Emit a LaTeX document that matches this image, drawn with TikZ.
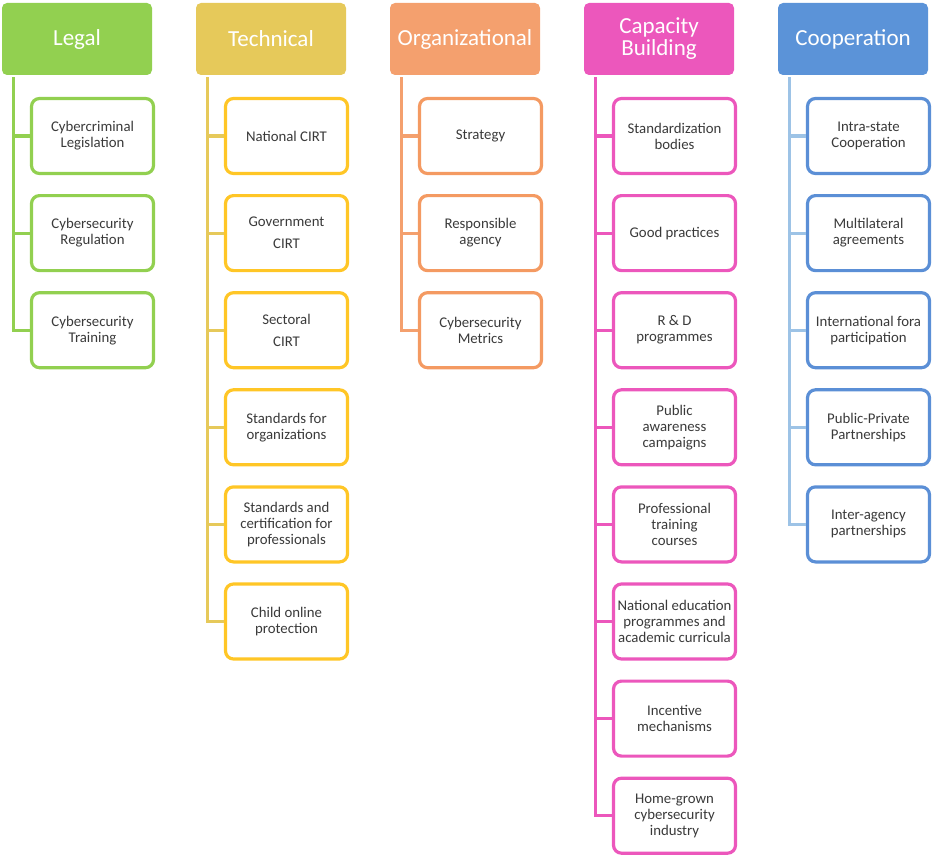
\documentclass[tikz,border=0pt]{standalone}
\usepackage{fontspec}
\setmainfont{Carlito}
\usetikzlibrary{calc}
\definecolor{lgreen}{HTML}{92D050}
\definecolor{theadc}{HTML}{E6C95A}
\definecolor{tbox}{HTML}{FFC626}
\definecolor{ohead}{HTML}{F4A06E}
\definecolor{obox}{HTML}{F49A62}
\definecolor{chead}{HTML}{EC57BC}
\definecolor{cbox}{HTML}{EC57BC}
\definecolor{bhead}{HTML}{5B93D8}
\definecolor{bbox}{HTML}{5B8FD6}
\definecolor{bline}{HTML}{9DC3E6}
\definecolor{txt}{HTML}{3A3A3A}
\begin{document}
\begin{tikzpicture}[x=1pt,y=-1pt,
  header/.style={rectangle, rounded corners=5pt, minimum width=150pt, minimum height=72pt,
    text=white, font=\fontsize{23}{22}\selectfont, align=center, inner sep=0pt},
  itembox/.style={rectangle, rounded corners=8pt, line width=3.2pt, fill=white,
    minimum width=122pt, minimum height=75pt, text=txt,
    font=\fontsize{14.8}{16}\selectfont, align=center, inner sep=0pt},
  conn/.style={line width=3pt}]
\useasboundingbox (0,0) rectangle (939,864);
% headers
\node[header, fill=lgreen] (Lh) at (77,39) {Legal};
\node[header, fill=theadc] (Th) at (271,39) {Technical};
\node[header, fill=ohead] (Oh) at (465,39) {Organizational};
\node[header, fill=chead] (Ch) at (659,39) {Capacity\\Building};
\node[header, fill=bhead] (Bh) at (853,39) {Cooperation};
\coordinate (Ll) at ($(Lh.south west)+(12,2)$);
\coordinate (Tl) at ($(Th.south west)+(12,2)$);
\coordinate (Ol) at ($(Oh.south west)+(12,2)$);
\coordinate (Cl) at ($(Ch.south west)+(12,2)$);
\coordinate (Bl) at ($(Bh.south west)+(12,2)$);
% Legal
\foreach \t [count=\i from 0] in {{Cybercriminal\\Legislation},{Cybersecurity\\Regulation},{Cybersecurity\\Training}} {
  \node[itembox, draw=lgreen] (L\i) at (92.5,136+97.1*\i) {\t};
  \draw[conn, lgreen] (Ll) |- (L\i.west);
}
% Technical
\foreach \t [count=\i from 0] in {{National CIRT},{Government\\[6pt]CIRT},{Sectoral\\[6pt]CIRT},{Standards for\\organizations},{Standards and\\certification for\\professionals},{Child online\\protection}} {
  \node[itembox, draw=tbox] (T\i) at (286.5,136+97.1*\i) {\t};
  \draw[conn, theadc] (Tl) |- (T\i.west);
}
% Organizational
\foreach \t [count=\i from 0] in {{Strategy},{Responsible\\agency},{Cybersecurity\\Metrics}} {
  \node[itembox, draw=obox] (O\i) at (480.5,136+97.1*\i) {\t};
  \draw[conn, ohead] (Ol) |- (O\i.west);
}
% Capacity Building
\foreach \t [count=\i from 0] in {{Standardization\\bodies},{Good practices},{R \& D\\programmes},{Public\\awareness\\campaigns},{Professional\\training\\courses},{National education\\programmes and\\academic curricula},{Incentive\\mechanisms},{Home-grown\\cybersecurity\\industry}} {
  \node[itembox, draw=cbox] (C\i) at (674.5,136+97.1*\i) {\t};
  \draw[conn, chead] (Cl) |- (C\i.west);
}
% Cooperation
\foreach \t [count=\i from 0] in {{Intra-state\\Cooperation},{Multilateral\\agreements},{International fora\\participation},{Public-Private\\Partnerships},{Inter-agency\\partnerships}} {
  \node[itembox, draw=bbox] (B\i) at (868.5,136+97.1*\i) {\t};
  \draw[conn, bline] (Bl) |- (B\i.west);
}
\end{tikzpicture}
\end{document}
